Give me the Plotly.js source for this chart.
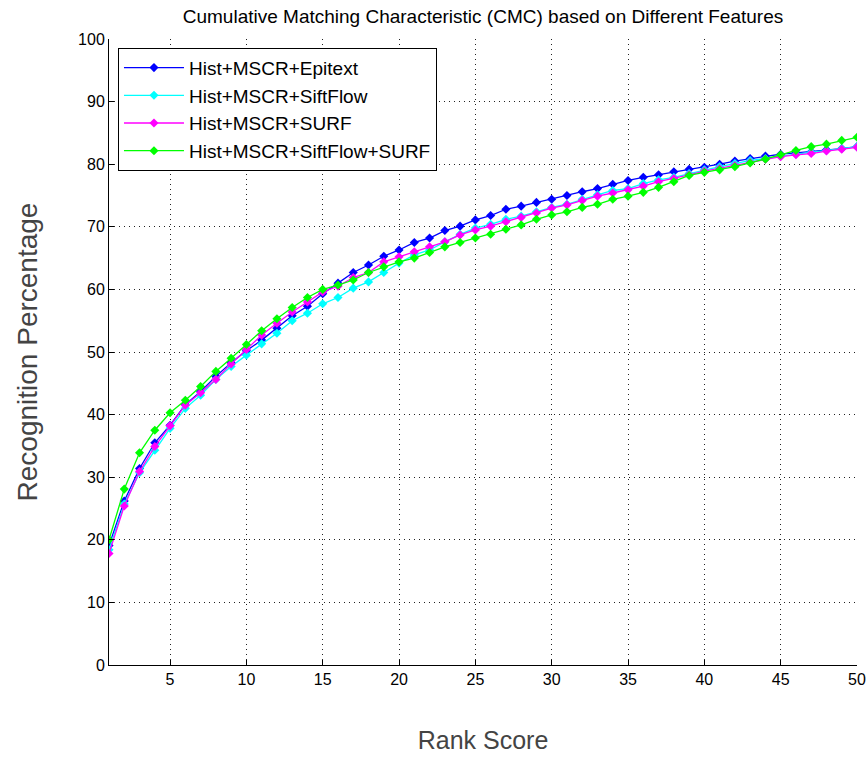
<!DOCTYPE html>
<html>
<head>
<meta charset="utf-8">
<script src="https://cdn.plot.ly/plotly-3.0.1.min.js"></script>
<style>html,body{margin:0;padding:0;background:#fff;}#chart{width:866px;height:760px;}</style>
</head>
<body>
<div id="chart"></div>
<script>
const rank = [1,2,3,4,5,6,7,8,9,10,11,12,13,14,15,16,17,18,19,20,21,22,23,24,25,26,27,28,29,30,31,32,33,34,35,36,37,38,39,40,41,42,43,44,45,46,47,48,49,50];

const epitext = [19.1,26.2,31.4,35.5,38.3,41.6,43.7,46.1,48.3,50.2,51.9,53.8,55.8,57.3,59.3,61.0,62.7,63.9,65.3,66.3,67.5,68.2,69.4,70.1,71.1,71.8,72.8,73.3,73.9,74.4,75.0,75.6,76.1,76.8,77.4,77.9,78.3,78.8,79.2,79.5,80.0,80.5,80.9,81.3,81.6,81.8,82.0,82.3,82.5,82.8];

const siftflow = [18.4,25.7,30.7,34.3,37.8,41.0,43.1,45.6,47.7,49.5,51.3,53.0,55.0,56.2,57.7,58.7,60.2,61.2,62.7,64.2,65.5,66.3,67.6,68.8,69.8,70.4,71.2,71.7,72.4,73.1,73.6,74.4,75.1,75.8,76.1,76.9,77.5,77.9,78.5,79.1,79.6,80.1,80.6,80.9,81.3,81.6,81.9,82.2,82.5,82.8];

const surf = [17.8,25.4,30.9,34.9,38.2,41.5,43.5,45.6,48.1,50.4,52.7,54.6,56.4,58.0,59.6,60.5,61.9,62.7,64.4,65.2,66.0,66.8,67.6,68.7,69.5,70.1,70.8,71.5,72.2,73.0,73.5,74.2,74.9,75.4,75.9,76.5,77.2,77.7,78.3,78.9,79.3,79.8,80.3,80.8,81.2,81.5,81.7,82.1,82.4,82.7];

const siftflowSurf = [20.0,28.1,33.9,37.5,40.3,42.3,44.5,46.9,49.0,51.2,53.4,55.3,57.1,58.7,60.0,60.7,61.5,62.7,63.6,64.4,65.0,65.9,66.8,67.5,68.2,68.8,69.6,70.3,71.2,71.9,72.4,73.1,73.6,74.4,74.9,75.5,76.3,77.2,78.2,78.7,79.1,79.6,80.2,80.8,81.5,82.2,82.8,83.2,83.8,84.3];

const seriesNames = ['Hist+MSCR+Epitext','Hist+MSCR+SiftFlow','Hist+MSCR+SURF','Hist+MSCR+SiftFlow+SURF'];
const seriesValues = [epitext, siftflow, surf, siftflowSurf];
const seriesColors = ['#0000FF','#00FFFF','#FF00FF','#00FF00'];

const xTicks = [5,10,15,20,25,30,35,40,45,50];
const yTicks = [0,10,20,30,40,50,60,70,80,90,100];

const traces = seriesValues.map((vals, i) => ({
  x: rank,
  y: vals,
  type: 'scatter',
  mode: 'lines+markers',
  name: seriesNames[i],
  legendgroup: 'g' + i,
  line: {color: seriesColors[i], width: 1.3},
  marker: {color: seriesColors[i], symbol: 'diamond', size: 7}
}));

const font = 'Arial, "Liberation Sans", sans-serif';

const layout = {
  width: 866,
  height: 760,
  margin: {l: 109, r: 9, t: 39, b: 95},
  paper_bgcolor: '#ffffff',
  plot_bgcolor: '#ffffff',
  font: {family: font, color: '#000', size: 15},
  title: {
    text: 'Cumulative Matching Characteristic (CMC) based on Different Features',
    font: {family: font, size: 19, color: '#000'},
    x: 0.5, xanchor: 'center', xref: 'paper',
    y: 0.978, yanchor: 'middle', yref: 'container'
  },
  xaxis: {
    range: [1, 50],
    tickvals: xTicks,
    ticktext: xTicks.map(String),
    showgrid: true,
    gridcolor: '#222',
    griddash: '1px,4px',
    gridwidth: 1,
    zeroline: false,
    showline: true,
    linecolor: '#000',
    linewidth: 1,
    ticks: 'inside',
    ticklen: 5,
    tickcolor: '#000',
    tickfont: {family: font, size: 16, color: '#000'},
    title: {text: 'Rank Score', font: {family: font, size: 25, color: '#444'}, standoff: 44}
  },
  yaxis: {
    range: [0, 100],
    tickvals: yTicks,
    ticktext: yTicks.map(String),
    showgrid: true,
    gridcolor: '#222',
    griddash: '1px,4px',
    gridwidth: 1,
    zeroline: false,
    showline: true,
    linecolor: '#000',
    linewidth: 1,
    ticks: 'inside',
    ticklen: 5,
    tickcolor: '#000',
    tickfont: {family: font, size: 16, color: '#000'},
    title: {text: 'Recognition Percentage', font: {family: font, size: 28, color: '#444'}, standoff: 32}
  },
  showlegend: true,
  legend: {
    x: 0.012, y: 0.986, xanchor: 'left', yanchor: 'top',
    bgcolor: '#ffffff',
    bordercolor: '#000',
    borderwidth: 1,
    font: {family: font, size: 19, color: '#000'},
    tracegroupgap: 0,
    itemwidth: 60
  }
};

Plotly.newPlot('chart', traces, layout, {displayModeBar: false, staticPlot: true});
</script>
</body>
</html>
